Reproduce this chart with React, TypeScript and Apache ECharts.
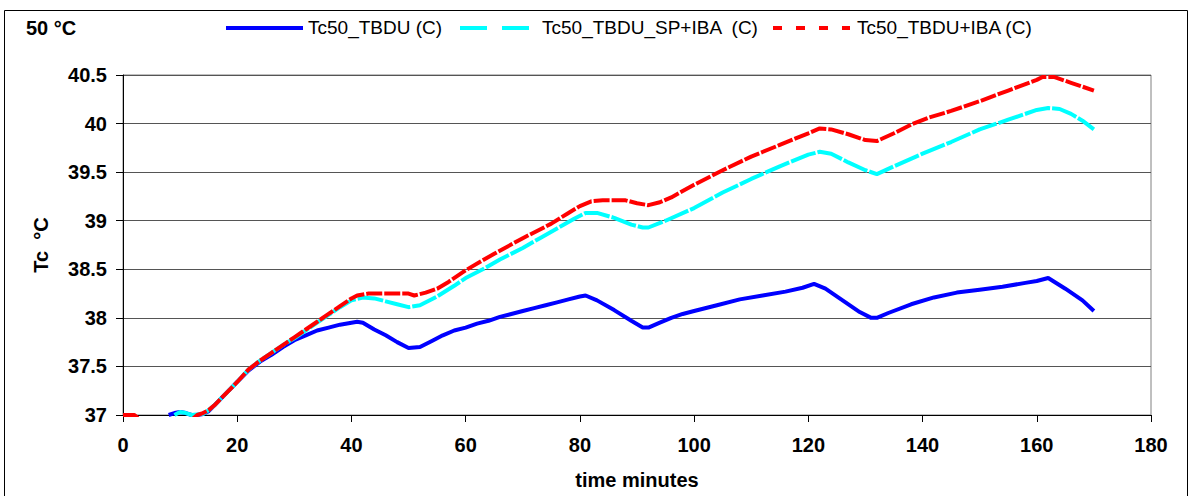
import React, { useEffect, useRef } from "react";
import * as echarts from "echarts";

const seriesNames = ["Tc50_TBDU (C)", "Tc50_TBDU_SP+IBA  (C)", "Tc50_TBDU+IBA (C)"];
const seriesColors = ["#0000FF", "#00FFFF", "#FF0000"];

const tbdu: [number, number][] = [
  [8, 37.0], [9, 37.02], [10, 37.03], [11, 37.02], [12, 37.0], [13, 37.0], [14, 37.01],
  [15, 37.04], [16, 37.1], [18, 37.22], [20, 37.34], [22, 37.46], [24, 37.55], [26, 37.62],
  [28, 37.7], [30, 37.77], [32, 37.82], [34, 37.87], [36, 37.9], [38, 37.93], [40, 37.95],
  [41, 37.96], [42, 37.95], [44, 37.88], [46, 37.82], [48, 37.75], [50, 37.69], [52, 37.7],
  [54, 37.76], [56, 37.82], [58, 37.87], [60, 37.9], [62, 37.94], [64, 37.97], [66, 38.01],
  [68, 38.04], [70, 38.07], [72, 38.1], [74, 38.13], [76, 38.16], [78, 38.19], [80, 38.22],
  [81, 38.23], [83, 38.18], [86, 38.08], [89, 37.97], [91, 37.9], [92, 37.9], [94, 37.95],
  [96, 38.0], [98, 38.04], [100, 38.07], [104, 38.13], [108, 38.19], [112, 38.23],
  [116, 38.27], [119, 38.31], [121, 38.35], [123, 38.3], [126, 38.18], [129, 38.06],
  [131, 38.0], [132, 38.0], [134, 38.05], [138, 38.14], [142, 38.21], [146, 38.26],
  [150, 38.29], [154, 38.32], [158, 38.36], [160, 38.38], [162, 38.41], [165, 38.3],
  [168, 38.18], [170, 38.07],
];

const tbduSpIba: [number, number][] = [
  [9, 37.0], [10, 37.03], [11, 37.02], [12, 37.0], [14, 37.01], [15, 37.05], [16, 37.1],
  [18, 37.22], [20, 37.34], [22, 37.47], [24, 37.56], [26, 37.64], [28, 37.72], [30, 37.79],
  [32, 37.87], [34, 37.95], [36, 38.03], [38, 38.11], [40, 38.18], [42, 38.21], [44, 38.2],
  [46, 38.17], [48, 38.14], [50, 38.11], [52, 38.13], [55, 38.22], [58, 38.33], [60, 38.41],
  [63, 38.5], [66, 38.6], [70, 38.72], [73, 38.82], [76, 38.92], [79, 39.02], [81, 39.08],
  [83, 39.08], [86, 39.03], [89, 38.96], [91, 38.93], [92, 38.93], [95, 39.0], [100, 39.13],
  [105, 39.29], [110, 39.43], [115, 39.56], [120, 39.68], [122, 39.71], [124, 39.69],
  [127, 39.6], [130, 39.52], [132, 39.48], [135, 39.56], [140, 39.69], [145, 39.81],
  [150, 39.94], [155, 40.04], [160, 40.14], [162, 40.16], [164, 40.15], [166, 40.1],
  [168, 40.03], [170, 39.94],
];

const tbduIba: [number, number][] = [
  [0, 37.0], [2, 37.0], [3, 36.95], [12, 36.95], [13, 37.0], [14, 37.02], [15, 37.05],
  [16, 37.1], [18, 37.22], [20, 37.34], [22, 37.47], [24, 37.56], [26, 37.64], [28, 37.72],
  [30, 37.8], [32, 37.88], [34, 37.96], [36, 38.04], [38, 38.12], [40, 38.2], [41, 38.23],
  [43, 38.25], [46, 38.25], [50, 38.25], [51, 38.23], [53, 38.26], [55, 38.3], [57, 38.37],
  [60, 38.49], [65, 38.66], [70, 38.82], [75, 38.97], [78, 39.08], [80, 39.15], [82, 39.2],
  [84, 39.21], [88, 39.21], [90, 39.18], [92, 39.16], [94, 39.19], [96, 39.24], [100, 39.37],
  [105, 39.52], [110, 39.66], [115, 39.78], [120, 39.9], [122, 39.95], [124, 39.94],
  [127, 39.89], [130, 39.83], [132, 39.82], [135, 39.9], [138, 39.99], [141, 40.06],
  [145, 40.13], [150, 40.23], [155, 40.34], [160, 40.45], [161, 40.48], [163, 40.48],
  [166, 40.42], [170, 40.34],
];

const chartTitle = "50 °C";
const xAxisName = "time minutes";
const yAxisName = "Tc  °C";

const FONT = "Liberation Sans, Arial, sans-serif";

export default function App() {
  const ref = useRef<HTMLDivElement>(null);
  useEffect(() => {
    if (!ref.current) return;
    const chart = echarts.init(ref.current, undefined, { renderer: "svg" });

    const legendLines = [
      { x1: 226, x2: 303, tx: 308, dash: null as number[] | null },
      { x1: 460, x2: 537, tx: 542, dash: [27, 15] },
      { x1: 773, x2: 850, tx: 857, dash: [9, 14] },
    ];
    const legendGraphics: any[] = [];
    legendLines.forEach((l, i) => {
      legendGraphics.push({
        type: "line",
        shape: { x1: l.x1, y1: 28, x2: l.x2, y2: 28 },
        style: {
          stroke: seriesColors[i],
          lineWidth: 4,
          lineDash: l.dash || undefined,
        },
        silent: true,
      });
      legendGraphics.push({
        type: "text",
        x: l.tx,
        y: 27,
        style: {
          text: seriesNames[i],
          fontFamily: FONT,
          fontSize: 19,
          fill: "#000",
          verticalAlign: "middle",
          align: "left",
        },
        silent: true,
      });
    });

    chart.setOption({
      animation: false,
      backgroundColor: "#ffffff",
      textStyle: { fontFamily: FONT },
      title: {
        text: chartTitle,
        left: 21,
        top: 13,
        textStyle: { fontFamily: FONT, fontSize: 20, fontWeight: "bold", color: "#000" },
      },
      grid: {
        left: 123,
        top: 75,
        right: 41,
        bottom: 81,
        show: true,
        borderColor: "#808080",
        borderWidth: 1,
        backgroundColor: "#fff",
      },
      xAxis: {
        type: "value",
        min: 0,
        max: 180,
        interval: 20,
        name: xAxisName,
        nameLocation: "middle",
        nameGap: 55,
        nameTextStyle: { fontFamily: FONT, fontSize: 20, fontWeight: "bold", color: "#000" },
        axisLine: { show: true, lineStyle: { color: "#000", width: 1 } },
        axisTick: { show: true, length: 7, lineStyle: { color: "#000" } },
        axisLabel: { margin: 20, fontFamily: FONT, fontSize: 20, fontWeight: "bold", color: "#000" },
        splitLine: { show: false },
      },
      yAxis: {
        type: "value",
        min: 37,
        max: 40.5,
        interval: 0.5,
        name: yAxisName,
        nameLocation: "middle",
        nameRotate: 90,
        nameGap: 72,
        nameTextStyle: { fontFamily: FONT, fontSize: 20, fontWeight: "bold", color: "#000" },
        axisLine: { show: true, lineStyle: { color: "#000", width: 1 } },
        axisTick: { show: true, length: 7, lineStyle: { color: "#000" } },
        axisLabel: { margin: 16, fontFamily: FONT, fontSize: 20, fontWeight: "bold", color: "#000" },
        splitLine: { show: true, lineStyle: { color: "#555", width: 1 } },
      },
      graphic: [
        {
          type: "rect",
          shape: { x: 4.5, y: 10.5, width: 1183, height: 500 },
          style: { fill: "none", stroke: "#000", lineWidth: 1 },
          silent: true,
        },
        ...legendGraphics,
      ],
      series: [
        {
          name: seriesNames[0],
          type: "line",
          data: tbdu,
          showSymbol: false,
          symbol: "none",
          clip: true,
          lineStyle: { color: seriesColors[0], width: 4, type: "solid" },
          itemStyle: { color: seriesColors[0] },
          z: 2,
        },
        {
          name: seriesNames[1],
          type: "line",
          data: tbduSpIba,
          showSymbol: false,
          symbol: "none",
          clip: true,
          lineStyle: { color: seriesColors[1], width: 4, type: [26, 2] },
          itemStyle: { color: seriesColors[1] },
          z: 3,
        },
        {
          name: seriesNames[2],
          type: "line",
          data: tbduIba,
          showSymbol: false,
          symbol: "none",
          clip: true,
          lineStyle: { color: seriesColors[2], width: 4, type: [16, 2] },
          itemStyle: { color: seriesColors[2] },
          z: 4,
        },
      ],
    });
    return () => chart.dispose();
  }, []);
  return (
    <div
      ref={ref}
      style={{ position: "fixed", left: 0, top: 0, width: 1192, height: 496, background: "#fff" }}
    />
  );
}
